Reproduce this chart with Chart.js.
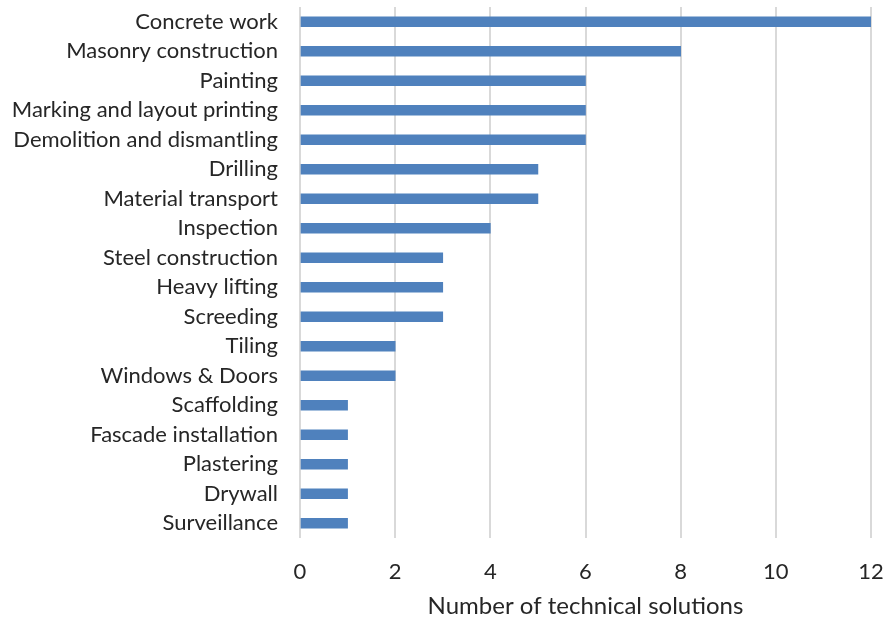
<!DOCTYPE html>
<html>
<head>
<meta charset="utf-8">
<script src="https://cdn.jsdelivr.net/npm/chart.js@4"></script>
<style>
  html, body { margin: 0; padding: 0; background: #fff; }
  #wrap { width: 886px; height: 621px; }
</style>
</head>
<body>
<div id="wrap"><canvas id="chart"></canvas></div>
<script>
const categories = [
  'Concrete work', 'Masonry construction', 'Painting', 'Marking and layout printing',
  'Demolition and dismantling', 'Drilling', 'Material transport', 'Inspection',
  'Steel construction', 'Heavy lifting', 'Screeding', 'Tiling', 'Windows & Doors',
  'Scaffolding', 'Fascade installation', 'Plastering', 'Drywall', 'Surveillance'
];
const solutions = [12, 8, 6, 6, 6, 5, 5, 4, 3, 3, 3, 2, 2, 1, 1, 1, 1, 1];
const xTicks = [0, 2, 4, 6, 8, 10, 12];
const xTitle = 'Number of technical solutions';

const family = 'Lato, "Open Sans", sans-serif';
const font = { family, size: 22 };

new Chart(document.getElementById('chart'), {
  type: 'bar',
  data: {
    labels: categories,
    datasets: [{
      data: solutions,
      backgroundColor: '#4f81bd',
      barThickness: 10
    }]
  },
  options: {
    indexAxis: 'y',
    responsive: true,
    maintainAspectRatio: false,
    animation: false,
    layout: { padding: { left: 0, right: 15, top: 7, bottom: 0 } },
    plugins: { legend: { display: false }, tooltip: { enabled: false } },
    scales: {
      x: {
        min: 0,
        max: 12,
        afterBuildTicks: axis => { axis.ticks = xTicks.map(v => ({ value: v })); },
        grid: { color: '#d9d9d9', lineWidth: 2, drawTicks: false },
        border: { display: false },
        ticks: { color: '#262626', font, padding: 21 },
        title: { display: true, text: xTitle, color: '#262626', font: { family, size: 24 }, padding: { top: 6, bottom: 0 } },
        afterFit: axis => {
          axis.height = 83;
          axis.paddingLeft = 0;
          axis.paddingRight = 0;
        }
      },
      y: {
        grid: { display: false, drawTicks: false },
        border: { display: false },
        ticks: { color: '#262626', font, padding: 22, autoSkip: false },
        afterFit: axis => {
          axis.width = 300;
          axis.paddingTop = 0;
          axis.paddingBottom = 0;
        }
      }
    }
  }
});
</script>
</body>
</html>
